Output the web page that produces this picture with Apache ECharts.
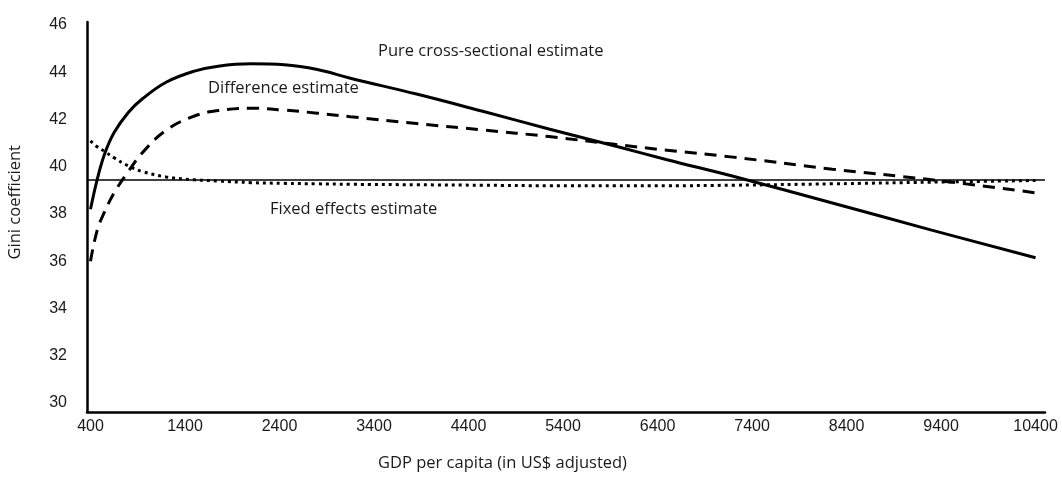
<!DOCTYPE html>
<html>
<head>
<meta charset="utf-8">
<script src="https://cdn.jsdelivr.net/npm/echarts@6/dist/echarts.min.js"></script>
<style>
  html, body { margin: 0; padding: 0; background: #fff; }
  #chart { width: 1062px; height: 480px; }
</style>
</head>
<body>
<div id="chart"></div>
<script>
// GDP per capita sample points (x)
const gdp = [400, 470, 550, 650, 800, 950, 1200, 1500, 1750, 2100, 2450, 2800,
  3150, 3850, 4550, 5250, 5950, 6500, 7200, 8250, 9300, 10400];

// Pure cross-sectional estimate (solid)
const pureCross = [38.2, 39.45, 40.55, 41.45, 42.3, 42.88, 43.58, 44.05, 44.26, 44.36, 44.32, 44.12,
  43.75, 43.08, 42.35, 41.6, 40.88, 40.3, 39.6, 38.47, 37.32, 36.15];

// Difference estimate (dashed)
const difference = [36.0, 37.3, 38.1, 38.9, 39.8, 40.6, 41.55, 42.15, 42.38, 42.48, 42.4, 42.27,
  42.12, 41.83, 41.56, 41.28, 40.95, 40.7, 40.41, 39.9, 39.45, 38.9];

// Fixed effects estimate (dotted)
const fixedEffects = [41.1, 40.85, 40.65, 40.38, 40.04, 39.8, 39.57, 39.45, 39.4, 39.33, 39.3, 39.28,
  39.26, 39.24, 39.22, 39.2, 39.2, 39.2, 39.22, 39.28, 39.35, 39.42];

// reference level (thin horizontal line)
const baseline = 39.45;

// tick labels
const xTicks = [400, 1400, 2400, 3400, 4400, 5400, 6400, 7400, 8400, 9400, 10400];
const yTicks = [30, 32, 34, 36, 38, 40, 42, 44, 46];

const pair = (ys) => gdp.map((x, i) => [x, ys[i]]);

const chart = echarts.init(document.getElementById('chart'));

const labelFont = { fontFamily: 'Liberation Sans', fontSize: 16, color: '#1a1a1a' };
const noteFont = { fontFamily: 'Open Sans', fontSize: 16.5, fill: '#1a1a1a' };

chart.setOption({
  animation: false,
  backgroundColor: '#fff',
  grid: { left: 87, right: 17, top: 22, bottom: 68 },
  xAxis: {
    type: 'value',
    min: 363,
    max: 10500,
    axisLine: { lineStyle: { color: '#000', width: 2.5 } },
    axisTick: { show: false },
    splitLine: { show: false },
    axisLabel: Object.assign({
      customValues: xTicks,
      margin: 7,
      formatter: (v) => String(v)
    }, labelFont)
  },
  yAxis: {
    type: 'value',
    min: 29.62,
    max: 46.13,
    axisLine: { show: true, lineStyle: { color: '#000', width: 2.5 } },
    axisTick: { show: false },
    splitLine: { show: false },
    axisLabel: Object.assign({ customValues: yTicks, margin: 20 }, labelFont)
  },
  series: [
    {
      name: 'Pure cross-sectional estimate',
      type: 'line',
      data: pair(pureCross),
      smooth: 0.4,
      showSymbol: false,
      lineStyle: { color: '#000', width: 3 },
      markLine: {
        silent: true,
        symbol: 'none',
        label: { show: false },
        lineStyle: { color: '#000', width: 1.5, type: 'solid' },
        data: [{ yAxis: baseline }]
      }
    },
    {
      name: 'Difference estimate',
      type: 'line',
      data: pair(difference),
      smooth: 0.4,
      showSymbol: false,
      lineStyle: { color: '#000', width: 3, type: [12, 8] }
    },
    {
      name: 'Fixed effects estimate',
      type: 'line',
      data: pair(fixedEffects),
      smooth: 0.4,
      showSymbol: false,
      lineStyle: { color: '#000', width: 3, type: [3, 4] }
    }
  ],
  graphic: [
    { type: 'text', left: 378, top: 43, style: Object.assign({ text: 'Pure cross-sectional estimate' }, noteFont) },
    { type: 'text', left: 208, top: 80, style: Object.assign({ text: 'Difference estimate' }, noteFont) },
    { type: 'text', left: 270, top: 201, style: Object.assign({ text: 'Fixed effects estimate' }, noteFont) },
    { type: 'text', left: 378, top: 455, style: Object.assign({ text: 'GDP per capita (in US$ adjusted)' }, noteFont) },
    {
      type: 'text', left: 7, top: 145, rotation: Math.PI / 2,
      style: Object.assign({ text: 'Gini coefficient' }, noteFont)
    }
  ]
});
</script>
</body>
</html>
